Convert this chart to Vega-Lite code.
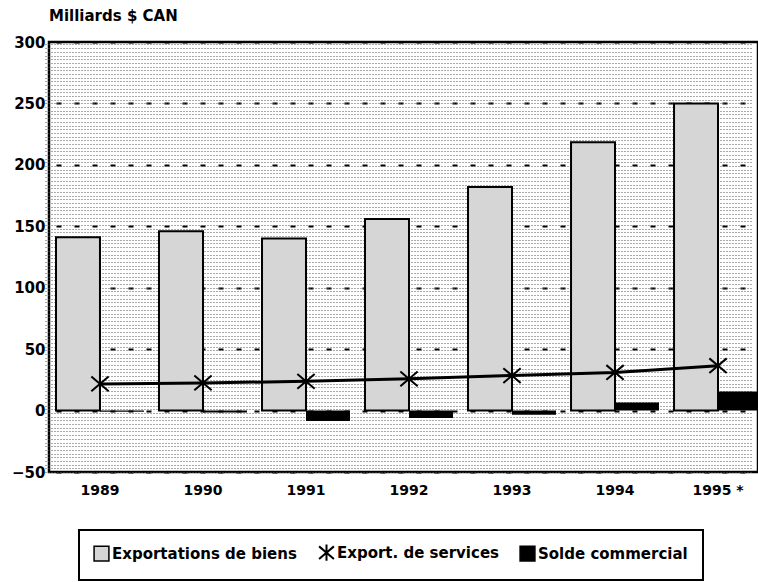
{
  "$schema": "https://vega.github.io/schema/vega-lite/v6.json",
  "autosize": "none",
  "width": 709,
  "height": 430,
  "padding": {"left": 49, "top": 42, "right": 0, "bottom": 110},
  "background": "white",
  "title": {"text": "Milliards $ CAN", "anchor": "start", "frame": "group", "font": "DejaVu Sans", "fontSize": 15, "fontWeight": "bold", "color": "black", "offset": 11},
  "config": {
    "view": {"stroke": "black", "strokeWidth": 2.5},
    "axis": {"labelFont": "DejaVu Sans", "labelFontWeight": "bold", "labelColor": "black"}
  },
  "data": {
    "values": [
      {"annee": "1989", "serie": "Exportations de biens", "valeur": 141},
      {"annee": "1990", "serie": "Exportations de biens", "valeur": 146},
      {"annee": "1991", "serie": "Exportations de biens", "valeur": 140},
      {"annee": "1992", "serie": "Exportations de biens", "valeur": 156},
      {"annee": "1993", "serie": "Exportations de biens", "valeur": 182},
      {"annee": "1994", "serie": "Exportations de biens", "valeur": 218.5},
      {"annee": "1995 *", "serie": "Exportations de biens", "valeur": 250},
      {"annee": "1989", "serie": "Export. de services", "valeur": 21.7},
      {"annee": "1990", "serie": "Export. de services", "valeur": 22.5},
      {"annee": "1991", "serie": "Export. de services", "valeur": 23.8},
      {"annee": "1992", "serie": "Export. de services", "valeur": 25.8},
      {"annee": "1993", "serie": "Export. de services", "valeur": 28.5},
      {"annee": "1994", "serie": "Export. de services", "valeur": 31},
      {"annee": "1995 *", "serie": "Export. de services", "valeur": 36.5},
      {"annee": "1989", "serie": "Solde commercial", "valeur": -1},
      {"annee": "1990", "serie": "Solde commercial", "valeur": -1.5},
      {"annee": "1991", "serie": "Solde commercial", "valeur": -8.5},
      {"annee": "1992", "serie": "Solde commercial", "valeur": -6},
      {"annee": "1993", "serie": "Solde commercial", "valeur": -3.5},
      {"annee": "1994", "serie": "Solde commercial", "valeur": 6.5},
      {"annee": "1995 *", "serie": "Solde commercial", "valeur": 15.5}
    ]
  },
  "encoding": {
    "x": {
      "field": "annee", "type": "nominal", "title": null,
      "scale": {"type": "band", "range": [7, 713], "paddingInner": 0.146, "paddingOuter": 0},
      "axis": {"labelAngle": 0, "labelFontSize": 14, "labelPadding": 11, "ticks": false, "domain": false, "grid": false}
    }
  },
  "resolve": {"axis": {"y": "independent"}},
  "layer": [
    {
      "transform": [{"filter": "datum.serie === 'Exportations de biens'"}],
      "mark": {"type": "bar", "stroke": "black", "strokeWidth": 2},
      "encoding": {
        "xOffset": {"field": "serie", "scale": {"domain": ["Exportations de biens", "Solde commercial"], "paddingInner": 0, "paddingOuter": 0}},
        "y": {
          "field": "valeur", "type": "quantitative", "title": null,
          "scale": {"domain": [-50, 300], "nice": false, "zero": false},
          "axis": {"orient": "left", "values": [-50, 0, 50, 100, 150, 200, 250, 300], "labelFontSize": 15, "labelPadding": 4, "ticks": false, "domain": false, "grid": true, "gridColor": "black", "gridWidth": 2, "gridDash": [5, 13]}
        },
        "fill": {
          "field": "serie", "type": "nominal",
          "scale": {"domain": ["Exportations de biens", "Export. de services", "Solde commercial"], "range": ["#d6d6d6", "#ffffff", "#000000"]},
          "legend": {
            "title": null, "orient": "none", "legendX": 30, "legendY": 488, "direction": "horizontal",
            "labelFont": "DejaVu Sans", "labelFontSize": 15, "labelFontWeight": "bold", "labelColor": "black", "labelLimit": 400,
            "symbolSize": 220, "symbolStrokeColor": "black", "symbolStrokeWidth": 1, "labelOffset": 3, "columnPadding": 18,
            "padding": 15, "strokeColor": "black",
            "encode": {
              "legend": {"update": {"strokeWidth": {"value": 2}}},
              "symbols": {"update": {
                "shape": {"signal": "datum.value === 'Export. de services' ? 'M-1,-0.85L1,0.85M-1,0.85L1,-0.85M0,-1.1L0,1.1' : 'square'"},
                "fill": {"signal": "datum.value === 'Exportations de biens' ? '#e4e4e4' : (datum.value === 'Solde commercial' ? '#000000' : 'transparent')"},
                "stroke": {"value": "black"},
                "strokeWidth": {"signal": "datum.value === 'Export. de services' ? 2 : 1.5"}
              }}
            }
          }
        }
      }
    },
    {
      "transform": [{"filter": "datum.serie === 'Solde commercial'"}],
      "mark": {"type": "bar", "clip": true},
      "encoding": {
        "xOffset": {"field": "serie", "scale": {"domain": ["Exportations de biens", "Solde commercial"], "paddingInner": 0, "paddingOuter": 0}},
        "y": {"field": "valeur", "type": "quantitative", "axis": null},
        "fill": {"field": "serie", "type": "nominal"}
      }
    },
    {
      "mark": {"type": "rule", "color": "black", "strokeWidth": 3},
      "encoding": {
        "y": {
          "datum": 0, "type": "quantitative",
          "axis": {"orient": "right", "title": null, "labels": false, "ticks": false, "domain": false, "grid": true, "gridColor": "#555555", "gridWidth": 1, "gridDash": [1, 2],
            "values": [-50,-47,-44,-41,-38,-35,-32,-29,-26,-23,-20,-17,-14,-11,-8,-5,-2,1,4,7,10,13,16,19,22,25,28,31,34,37,40,43,46,49,52,55,58,61,64,67,70,73,76,79,82,85,88,91,94,97,100,103,106,109,112,115,118,121,124,127,130,133,136,139,142,145,148,151,154,157,160,163,166,169,172,175,178,181,184,187,190,193,196,199,202,205,208,211,214,217,220,223,226,229,232,235,238,241,244,247,250,253,256,259,262,265,268,271,274,277,280,283,286,289,292,295,298]}
        }
      }
    },
    {
      "transform": [{"filter": "datum.serie === 'Export. de services'"}],
      "mark": {"type": "line", "color": "black", "strokeWidth": 3},
      "encoding": {
        "y": {"field": "valeur", "type": "quantitative", "axis": null}
      }
    },
    {
      "transform": [{"filter": "datum.serie === 'Export. de services'"}],
      "mark": {"type": "point", "filled": false, "color": "black", "strokeWidth": 2, "size": 300, "opacity": 1, "shape": "M-1,-0.85L1,0.85M-1,0.85L1,-0.85M0,-1.1L0,1.1"},
      "encoding": {
        "y": {"field": "valeur", "type": "quantitative", "axis": null}
      }
    }
  ]
}
